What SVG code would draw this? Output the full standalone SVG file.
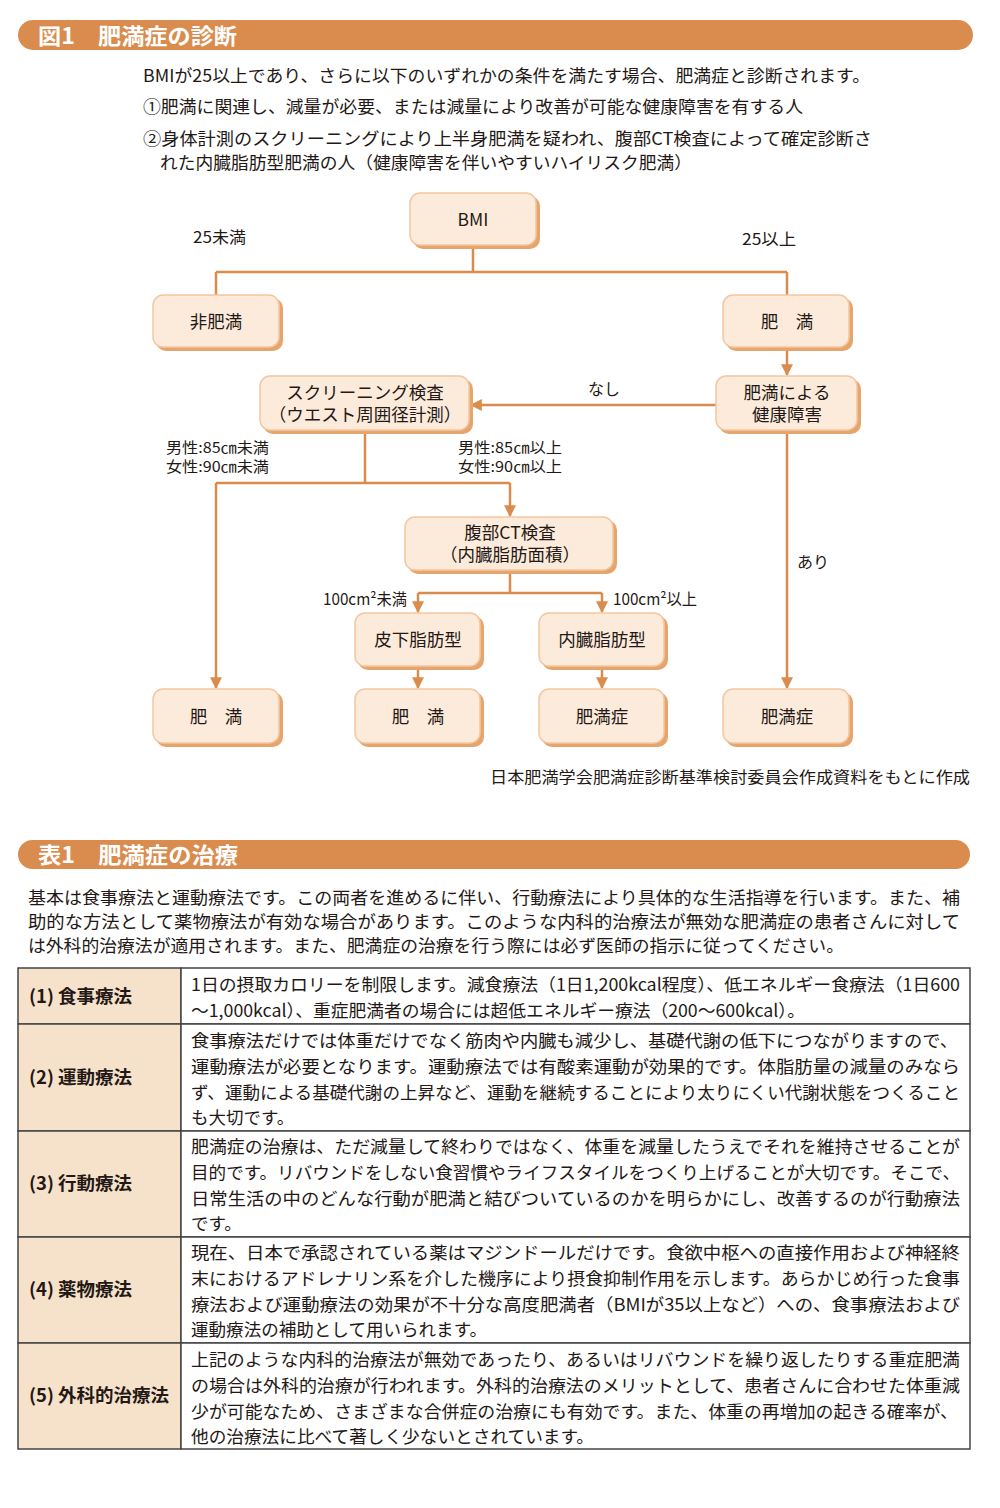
<svg xmlns="http://www.w3.org/2000/svg" width="1000" height="1508" viewBox="0 0 1000 1508">
<defs>
<style>
text{font-family:"Noto Sans CJK JP","Noto Sans",sans-serif;fill:#231815}
.hdr{fill:#D98C4E}
.ht{fill:#fff;font-weight:bold;font-size:22px}
.intro{font-size:17px}
.shadow{fill:#E6A56C}
.box{fill:#FCEBDB;stroke:#F3C7A0;stroke-width:1.5}
.nl{font-size:17.5px;text-anchor:middle}
.lbl{font-size:16px}
.lbl2{font-size:15px}
.con{fill:none;stroke:#D98C4E;stroke-width:2.5}
.para{font-size:17.5px}
.cellL{fill:#F6E2CB;stroke:#444;stroke-width:1.5}
.cellR{fill:#fff;stroke:#444;stroke-width:1.5}
.th{font-size:18px;font-weight:bold}
.td{font-size:17.5px}
</style>
<marker id="ah" viewBox="0 0 10 10" refX="9" refY="5" markerWidth="4.8" markerHeight="4.8" orient="auto" markerUnits="strokeWidth">
<path d="M0,0 L10,5 L0,10 Z" fill="#D98C4E"/>
</marker>
</defs>
<rect width="1000" height="1508" fill="#fff"/>

<!-- Header 1 -->
<g id="header1">
<rect class="hdr" x="18" y="20" width="955" height="30" rx="15"/>
<text class="ht" x="38" y="44" textLength="199" lengthAdjust="spacingAndGlyphs">図1　肥満症の診断</text>
</g>
<g id="intro">
<text class="intro" x="143" y="82" textLength="727" lengthAdjust="spacingAndGlyphs">BMIが25以上であり、さらに以下のいずれかの条件を満たす場合、肥満症と診断されます。</text>
<text class="intro" x="143" y="113" textLength="660" lengthAdjust="spacingAndGlyphs">①肥満に関連し、減量が必要、または減量により改善が可能な健康障害を有する人</text>
<text class="intro" x="143" y="145" textLength="729" lengthAdjust="spacingAndGlyphs">②身体計測のスクリーニングにより上半身肥満を疑われ、腹部CT検査によって確定診断さ</text>
<text class="intro" x="160" y="169" textLength="532" lengthAdjust="spacingAndGlyphs">れた内臓脂肪型肥満の人（健康障害を伴いやすいハイリスク肥満）</text>
</g>

<!-- Connectors -->
<g id="connectors">
<path class="con" d="M473,246 V272 M216,272 H787 M216,272 V295 M787,272 V295"/>
<path class="con" d="M787,348 V375" marker-end="url(#ah)"/>
<path class="con" d="M716,405 H471" marker-end="url(#ah)"/>
<path class="con" d="M787,431 V688" marker-end="url(#ah)"/>
<path class="con" d="M365,431 V483 M216,483 H510"/>
<path class="con" d="M216,483 V688" marker-end="url(#ah)"/>
<path class="con" d="M510,483 V516" marker-end="url(#ah)"/>
<path class="con" d="M510,571 V593 M418,593 H602"/>
<path class="con" d="M418,593 V612" marker-end="url(#ah)"/>
<path class="con" d="M602,593 V612" marker-end="url(#ah)"/>
<path class="con" d="M418,667 V688" marker-end="url(#ah)"/>
<path class="con" d="M602,667 V688" marker-end="url(#ah)"/>
<text class="lbl" x="193" y="243" textLength="53" lengthAdjust="spacingAndGlyphs">25未満</text>
<text class="lbl" x="742" y="245" textLength="54" lengthAdjust="spacingAndGlyphs">25以上</text>
<text class="lbl" x="588" y="395">なし</text>
<text class="lbl" x="797" y="568">あり</text>
<text class="lbl2" x="166" y="453" textLength="103" lengthAdjust="spacingAndGlyphs">男性:85㎝未満</text>
<text class="lbl2" x="166" y="472" textLength="103" lengthAdjust="spacingAndGlyphs">女性:90㎝未満</text>
<text class="lbl2" x="458" y="453" textLength="104" lengthAdjust="spacingAndGlyphs">男性:85㎝以上</text>
<text class="lbl2" x="458" y="472" textLength="104" lengthAdjust="spacingAndGlyphs">女性:90㎝以上</text>
<text class="lbl" x="323" y="605" textLength="84" lengthAdjust="spacingAndGlyphs">100cm²未満</text>
<text class="lbl" x="613" y="605" textLength="84" lengthAdjust="spacingAndGlyphs">100cm²以上</text>
</g>

<!-- Nodes -->
<g id="n-bmi">
<rect class="shadow" x="413" y="196" width="127" height="53" rx="10"/>
<rect class="box" x="410" y="193" width="126" height="52" rx="10"/>
<text class="nl" x="473" y="226">BMI</text>
</g>
<g id="n-hihiman">
<rect class="shadow" x="156" y="298" width="127" height="53" rx="10"/>
<rect class="box" x="153" y="295" width="126" height="52" rx="10"/>
<text class="nl" x="216" y="328">非肥満</text>
</g>
<g id="n-himan1">
<rect class="shadow" x="726" y="298" width="127" height="53" rx="10"/>
<rect class="box" x="723" y="295" width="126" height="52" rx="10"/>
<text class="nl" x="787" y="328">肥　満</text>
</g>
<g id="n-screening">
<rect class="shadow" x="263" y="379" width="210" height="55" rx="10"/>
<rect class="box" x="260" y="376" width="209" height="54" rx="10"/>
<text class="nl"><tspan x="365" y="399">スクリーニング検査</tspan><tspan x="365" y="421">（ウエスト周囲径計測）</tspan></text>
</g>
<g id="n-kenko">
<rect class="shadow" x="719" y="379" width="142" height="55" rx="10"/>
<rect class="box" x="716" y="376" width="141" height="54" rx="10"/>
<text class="nl"><tspan x="787" y="399">肥満による</tspan><tspan x="787" y="421">健康障害</tspan></text>
</g>
<g id="n-ct">
<rect class="shadow" x="408" y="520" width="209" height="54" rx="10"/>
<rect class="box" x="405" y="517" width="208" height="53" rx="10"/>
<text class="nl"><tspan x="510" y="539">腹部CT検査</tspan><tspan x="510" y="561">（内臓脂肪面積）</tspan></text>
</g>
<g id="n-hika">
<rect class="shadow" x="358" y="616" width="126" height="54" rx="10"/>
<rect class="box" x="355" y="613" width="125" height="53" rx="10"/>
<text class="nl" x="418" y="646">皮下脂肪型</text>
</g>
<g id="n-naizo">
<rect class="shadow" x="542" y="616" width="126" height="54" rx="10"/>
<rect class="box" x="539" y="613" width="125" height="53" rx="10"/>
<text class="nl" x="602" y="646">内臓脂肪型</text>
</g>
<g id="n-himan2">
<rect class="shadow" x="156" y="692" width="127" height="55" rx="10"/>
<rect class="box" x="153" y="689" width="126" height="54" rx="10"/>
<text class="nl" x="216" y="723">肥　満</text>
</g>
<g id="n-himan3">
<rect class="shadow" x="358" y="692" width="126" height="55" rx="10"/>
<rect class="box" x="355" y="689" width="125" height="54" rx="10"/>
<text class="nl" x="418" y="723">肥　満</text>
</g>
<g id="n-himansho1">
<rect class="shadow" x="542" y="692" width="126" height="55" rx="10"/>
<rect class="box" x="539" y="689" width="125" height="54" rx="10"/>
<text class="nl" x="602" y="723">肥満症</text>
</g>
<g id="n-himansho2">
<rect class="shadow" x="726" y="692" width="127" height="55" rx="10"/>
<rect class="box" x="723" y="689" width="126" height="54" rx="10"/>
<text class="nl" x="787" y="723">肥満症</text>
</g>

<g id="source">
<text x="970" y="783" text-anchor="end" font-size="15.5" textLength="480" lengthAdjust="spacingAndGlyphs">日本肥満学会肥満症診断基準検討委員会作成資料をもとに作成</text>
</g>

<!-- Header 2 -->
<g id="header2">
<rect class="hdr" x="18" y="840" width="952" height="29" rx="14.5"/>
<text class="ht" x="38" y="863" textLength="200" lengthAdjust="spacingAndGlyphs">表1　肥満症の治療</text>
</g>
<g id="para">
<text class="para" x="28" y="904" textLength="932" lengthAdjust="spacingAndGlyphs">基本は食事療法と運動療法です。この両者を進めるに伴い、行動療法により具体的な生活指導を行います。また、補</text>
<text class="para" x="28" y="928" textLength="932" lengthAdjust="spacingAndGlyphs">助的な方法として薬物療法が有効な場合があります。このような内科的治療法が無効な肥満症の患者さんに対して</text>
<text class="para" x="28" y="952" textLength="816" lengthAdjust="spacingAndGlyphs">は外科的治療法が適用されます。また、肥満症の治療を行う際には必ず医師の指示に従ってください。</text>
</g>

<!-- Table -->
<g id="table">
<rect class="cellL" x="18" y="968" width="163" height="56"/>
<rect class="cellR" x="181" y="968" width="789" height="56"/>
<rect class="cellL" x="18" y="1024" width="163" height="107"/>
<rect class="cellR" x="181" y="1024" width="789" height="107"/>
<rect class="cellL" x="18" y="1131" width="163" height="106"/>
<rect class="cellR" x="181" y="1131" width="789" height="106"/>
<rect class="cellL" x="18" y="1237" width="163" height="106"/>
<rect class="cellR" x="181" y="1237" width="789" height="106"/>
<rect class="cellL" x="18" y="1343" width="163" height="106"/>
<rect class="cellR" x="181" y="1343" width="789" height="106"/>

<text class="th" x="29" y="1003" textLength="103" lengthAdjust="spacingAndGlyphs">(1) 食事療法</text>
<text class="th" x="29" y="1084" textLength="103" lengthAdjust="spacingAndGlyphs">(2) 運動療法</text>
<text class="th" x="29" y="1190" textLength="103" lengthAdjust="spacingAndGlyphs">(3) 行動療法</text>
<text class="th" x="29" y="1296" textLength="103" lengthAdjust="spacingAndGlyphs">(4) 薬物療法</text>
<text class="th" x="29" y="1402" textLength="140" lengthAdjust="spacingAndGlyphs">(5) 外科的治療法</text>

<text class="td" x="191" y="991" textLength="769" lengthAdjust="spacingAndGlyphs">1日の摂取カロリーを制限します。減食療法（1日1,200kcal程度）、低エネルギー食療法（1日600</text>
<text class="td" x="191" y="1017" textLength="614" lengthAdjust="spacingAndGlyphs">～1,000kcal）、重症肥満者の場合には超低エネルギー療法（200～600kcal）。</text>

<text class="td" x="191" y="1047" textLength="767" lengthAdjust="spacingAndGlyphs">食事療法だけでは体重だけでなく筋肉や内臓も減少し、基礎代謝の低下につながりますので、</text>
<text class="td" x="191" y="1073" textLength="769" lengthAdjust="spacingAndGlyphs">運動療法が必要となります。運動療法では有酸素運動が効果的です。体脂肪量の減量のみなら</text>
<text class="td" x="191" y="1099" textLength="769" lengthAdjust="spacingAndGlyphs">ず、運動による基礎代謝の上昇など、運動を継続することにより太りにくい代謝状態をつくること</text>
<text class="td" x="191" y="1124">も大切です。</text>

<text class="td" x="191" y="1153" textLength="769" lengthAdjust="spacingAndGlyphs">肥満症の治療は、ただ減量して終わりではなく、体重を減量したうえでそれを維持させることが</text>
<text class="td" x="191" y="1179" textLength="769" lengthAdjust="spacingAndGlyphs">目的です。リバウンドをしない食習慣やライフスタイルをつくり上げることが大切です。そこで、</text>
<text class="td" x="191" y="1205" textLength="769" lengthAdjust="spacingAndGlyphs">日常生活の中のどんな行動が肥満と結びついているのかを明らかにし、改善するのが行動療法</text>
<text class="td" x="191" y="1230">です。</text>

<text class="td" x="191" y="1259" textLength="769" lengthAdjust="spacingAndGlyphs">現在、日本で承認されている薬はマジンドールだけです。食欲中枢への直接作用および神経終</text>
<text class="td" x="191" y="1285" textLength="769" lengthAdjust="spacingAndGlyphs">末におけるアドレナリン系を介した機序により摂食抑制作用を示します。あらかじめ行った食事</text>
<text class="td" x="191" y="1311" textLength="769" lengthAdjust="spacingAndGlyphs">療法および運動療法の効果が不十分な高度肥満者（BMIが35以上など）への、食事療法および</text>
<text class="td" x="191" y="1336" textLength="296" lengthAdjust="spacingAndGlyphs">運動療法の補助として用いられます。</text>

<text class="td" x="191" y="1366" textLength="769" lengthAdjust="spacingAndGlyphs">上記のような内科的治療法が無効であったり、あるいはリバウンドを繰り返したりする重症肥満</text>
<text class="td" x="191" y="1392" textLength="769" lengthAdjust="spacingAndGlyphs">の場合は外科的治療が行われます。外科的治療法のメリットとして、患者さんに合わせた体重減</text>
<text class="td" x="191" y="1418" textLength="767" lengthAdjust="spacingAndGlyphs">少が可能なため、さまざまな合併症の治療にも有効です。また、体重の再増加の起きる確率が、</text>
<text class="td" x="191" y="1443" textLength="403" lengthAdjust="spacingAndGlyphs">他の治療法に比べて著しく少ないとされています。</text>
</g>
</svg>
